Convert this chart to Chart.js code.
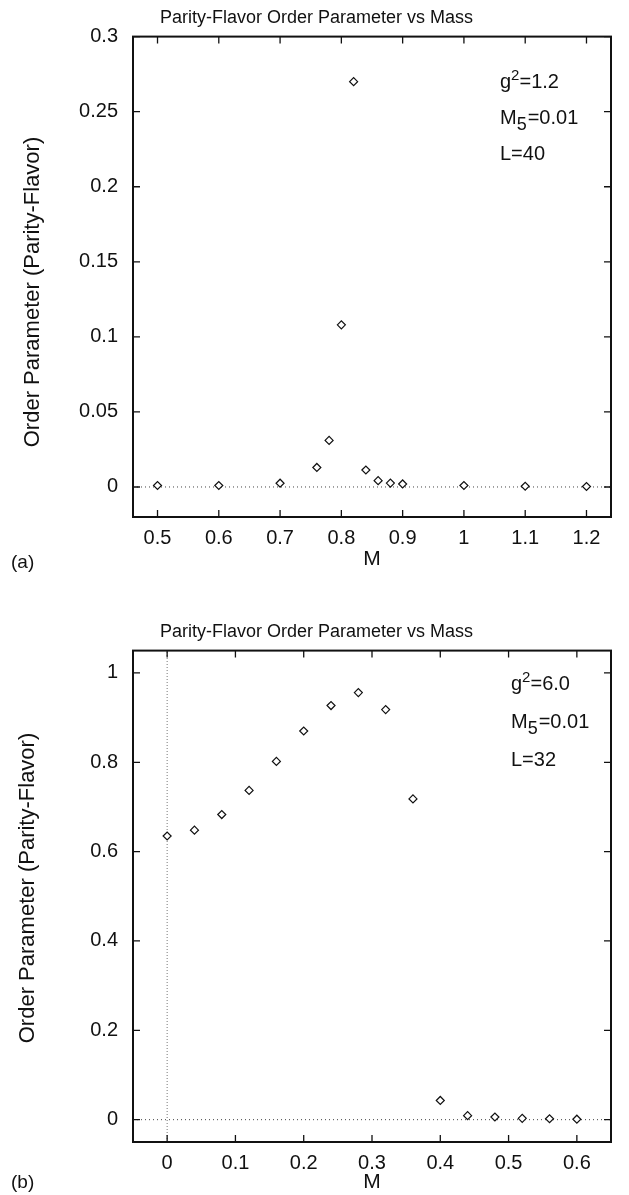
<!DOCTYPE html>
<html>
<head>
<meta charset="utf-8">
<script src="https://cdn.jsdelivr.net/npm/chart.js@4.4.1/dist/chart.umd.min.js"></script>
<style>
  html, body { margin: 0; padding: 0; background: #fff; }
  #wrapA { position: absolute; left: 0; top: 0; }
  #wrapB { position: absolute; left: 0; top: 580px; }
</style>
</head>
<body>
<div id="wrapA"><canvas id="chartA" width="629" height="580"></canvas></div>
<div id="wrapB"><canvas id="chartB" width="629" height="615"></canvas></div>
<script>
// panel (a): g^2=1.2, M5=0.01, L=40
const massA = [0.5, 0.6, 0.7, 0.76, 0.78, 0.8, 0.82, 0.84, 0.86, 0.88, 0.9, 1.0, 1.1, 1.2];
const orderA = [0.001, 0.001, 0.0025, 0.013, 0.031, 0.108, 0.27, 0.0113, 0.0042, 0.0026, 0.002, 0.001, 0.0005, 0.0003];
const xTicksA = [0.5, 0.6, 0.7, 0.8, 0.9, 1.0, 1.1, 1.2];
const xLabelsA = ["0.5", "0.6", "0.7", "0.8", "0.9", "1", "1.1", "1.2"];
const yTicksA = [0, 0.05, 0.1, 0.15, 0.2, 0.25, 0.3];
const yLabelsA = ["0", "0.05", "0.1", "0.15", "0.2", "0.25", "0.3"];
const xRangeA = [0.46, 1.24];
const yRangeA = [-0.02, 0.3];
const paramsA = ["1.2", "0.01", "40"];

// panel (b): g^2=6.0, M5=0.01, L=32
const massB = [0, 0.04, 0.08, 0.12, 0.16, 0.2, 0.24, 0.28, 0.32, 0.36, 0.4, 0.44, 0.48, 0.52, 0.56, 0.6];
const orderB = [0.635, 0.648, 0.683, 0.737, 0.802, 0.87, 0.927, 0.956, 0.918, 0.718, 0.043, 0.009, 0.006, 0.003, 0.002, 0.001];
const xTicksB = [0, 0.1, 0.2, 0.3, 0.4, 0.5, 0.6];
const xLabelsB = ["0", "0.1", "0.2", "0.3", "0.4", "0.5", "0.6"];
const yTicksB = [0, 0.2, 0.4, 0.6, 0.8, 1];
const yLabelsB = ["0", "0.2", "0.4", "0.6", "0.8", "1"];
const xRangeB = [-0.05, 0.65];
const yRangeB = [-0.05, 1.05];
const paramsB = ["6.0", "0.01", "32"];

const titleText = "Parity-Flavor Order Parameter vs Mass";
const yTitleText = "Order Parameter (Parity-Flavor)";
const FONT = "'Liberation Sans', Arial, Helvetica, sans-serif";
const INK = "#111";

Chart.defaults.font.family = FONT;
Chart.defaults.color = INK;

// frame, inward ticks on all sides, y title, parameter box and panel letter
const decorPlugin = {
    id: "decor",
    afterDraw(chart, args, o) {
        const ctx = chart.ctx;
        const a = chart.chartArea;
        const xs = chart.scales.x;
        const ys = chart.scales.y;
        ctx.save();
        ctx.strokeStyle = INK;
        ctx.lineWidth = 1.3;
        ctx.beginPath();
        xs.ticks.forEach(t => {
            const px = xs.getPixelForValue(t.value);
            ctx.moveTo(px, a.bottom); ctx.lineTo(px, a.bottom - 7);
            ctx.moveTo(px, a.top); ctx.lineTo(px, a.top + 7);
        });
        ys.ticks.forEach(t => {
            const py = ys.getPixelForValue(t.value);
            ctx.moveTo(a.left, py); ctx.lineTo(a.left + 7, py);
            ctx.moveTo(a.right, py); ctx.lineTo(a.right - 7, py);
        });
        ctx.stroke();
        ctx.lineWidth = 2;
        ctx.strokeRect(a.left, a.top, a.right - a.left, a.bottom - a.top);

        ctx.fillStyle = INK;
        // y axis title
        ctx.save();
        ctx.font = "22px " + FONT;
        ctx.textAlign = "center";
        ctx.textBaseline = "middle";
        ctx.translate(o.yTitleX, o.yTitleY);
        ctx.rotate(-Math.PI / 2);
        ctx.fillText(yTitleText, 0, 0);
        ctx.restore();

        // parameters
        ctx.textAlign = "left";
        ctx.textBaseline = "alphabetic";
        const big = "20px " + FONT;
        const small = "15px " + FONT;
        const sub = "18px " + FONT;
        let x = o.boxX;
        let y = o.boxY;
        ctx.font = big; ctx.fillText("g", x, y); x += ctx.measureText("g").width;
        ctx.font = small; ctx.fillText("2", x, y - 8); x += ctx.measureText("2").width;
        ctx.font = big; ctx.fillText("=" + o.params[0], x, y);
        x = o.boxX; y += o.boxStep;
        ctx.font = big; ctx.fillText("M", x, y); x += ctx.measureText("M").width;
        ctx.font = sub; ctx.fillText("5", x, y + 6); x += ctx.measureText("5").width + 1;
        ctx.font = big; ctx.fillText("=" + o.params[1], x, y);
        x = o.boxX; y += o.boxStep;
        ctx.fillText("L=" + o.params[2], x, y);

        // panel letter
        ctx.font = "19px " + FONT;
        ctx.textBaseline = "middle";
        ctx.fillText(o.letter, 11, o.letterY);
        ctx.restore();
    }
};

function makeChart(id, mass, order, xTicks, xLabels, yTicks, yLabels, xRange, yRange, cfg) {
    const zeroLines = [{
        data: [{ x: xRange[0], y: 0 }, { x: xRange[1], y: 0 }],
        showLine: true,
        pointRadius: 0,
        borderColor: "#444",
        borderWidth: 1,
        borderDash: [1, 3],
        order: 3
    }];
    if (cfg.vertZero) {
        zeroLines.push({
            data: [{ x: 0, y: yRange[0] }, { x: 0, y: yRange[1] }],
            showLine: true,
            pointRadius: 0,
            borderColor: "#777",
            borderWidth: 1,
            borderDash: [1, 2],
            order: 3
        });
    }
    new Chart(document.getElementById(id), {
        type: "scatter",
        data: {
            datasets: zeroLines.concat([{
                data: mass.map((m, i) => ({ x: m, y: order[i] })),
                pointStyle: "rectRot",
                pointRadius: 4,
                pointBorderWidth: 1.2,
                pointBorderColor: INK,
                pointBackgroundColor: "#fff",
                order: 1
            }])
        },
        options: {
            responsive: false,
            animation: false,
            layout: { padding: { left: 22, right: 18, top: 0, bottom: 0 } },
            plugins: {
                legend: { display: false },
                tooltip: { enabled: false },
                title: {
                    display: true,
                    text: titleText,
                    color: INK,
                    font: { size: 18, weight: "normal" },
                    padding: cfg.titlePad
                },
                decor: cfg.decor
            },
            scales: {
                x: {
                    type: "linear",
                    min: xRange[0],
                    max: xRange[1],
                    afterBuildTicks: s => { s.ticks = xTicks.map(v => ({ value: v })); },
                    afterFit: s => { s.height = cfg.xAxisHeight; },
                    grid: { display: false, drawTicks: false },
                    border: { display: false },
                    ticks: {
                        font: { size: 20 },
                        color: INK,
                        padding: 9,
                        maxRotation: 0,
                        callback: (v, i) => xLabels[i]
                    },
                    title: {
                        display: true,
                        text: "M",
                        color: INK,
                        font: { size: 21 },
                        padding: { top: 0, bottom: cfg.mPad }
                    }
                },
                y: {
                    type: "linear",
                    min: yRange[0],
                    max: yRange[1],
                    afterBuildTicks: s => { s.ticks = yTicks.map(v => ({ value: v })); },
                    afterFit: s => { s.width = 111; },
                    grid: { display: false, drawTicks: false },
                    border: { display: false },
                    ticks: {
                        font: { size: 20 },
                        color: INK,
                        padding: 15,
                        callback: (v, i) => yLabels[i]
                    }
                }
            }
        },
        plugins: [decorPlugin]
    });
}

makeChart("chartA", massA, orderA, xTicksA, xLabelsA, yTicksA, yLabelsA, xRangeA, yRangeA, {
    titlePad: { top: 7, bottom: 8 },
    xAxisHeight: 63,
    mPad: 8,
    vertZero: false,
    decor: { yTitleX: 33, yTitleY: 292, boxX: 500, boxY: 88, boxStep: 36, params: paramsA, letter: "(a)", letterY: 563 }
});

makeChart("chartB", massB, orderB, xTicksB, xLabelsB, yTicksB, yLabelsB, xRangeB, yRangeB, {
    titlePad: { top: 41, bottom: 8 },
    xAxisHeight: 53,
    mPad: 0,
    vertZero: true,
    decor: { yTitleX: 28, yTitleY: 308, boxX: 511, boxY: 110, boxStep: 38, params: paramsB, letter: "(b)", letterY: 603 }
});
</script>
</body>
</html>
